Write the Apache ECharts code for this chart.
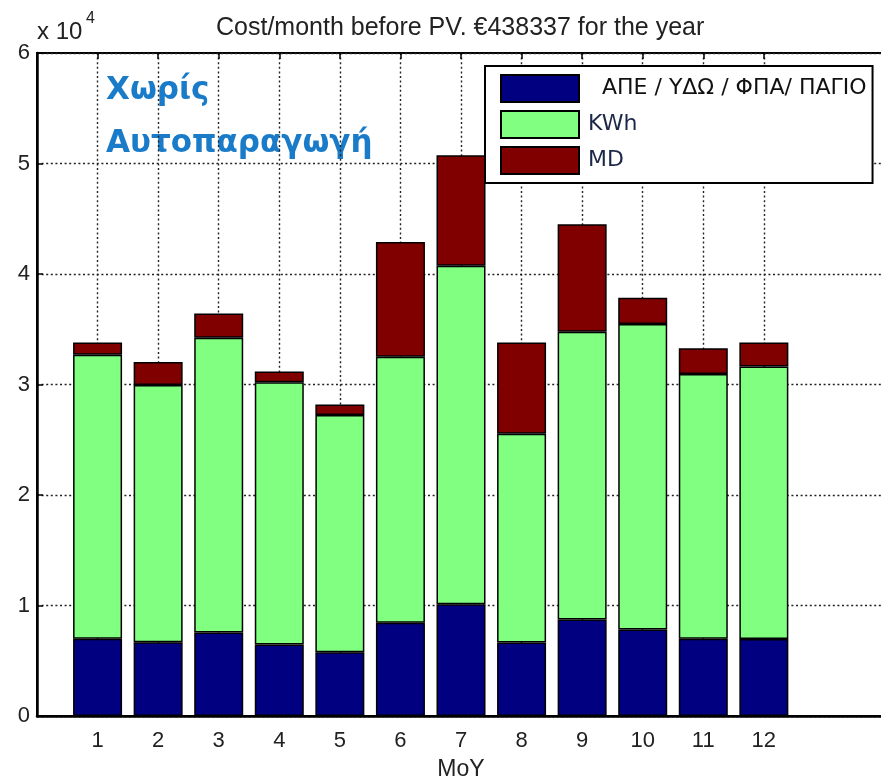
<!DOCTYPE html>
<html>
<head>
<meta charset="utf-8">
<script src="https://cdn.jsdelivr.net/npm/echarts@6/dist/echarts.min.js"></script>
<style>
  html, body { margin: 0; padding: 0; background: #fff; }
  #main { width: 881px; height: 781px; }
</style>
</head>
<body>
<div id="main"></div>
<script>
// months of the year
var months = ['1', '2', '3', '4', '5', '6', '7', '8', '9', '10', '11', '12'];
// ΑΠΕ / ΥΔΩ / ΦΠΑ / ΠΑΓΙΟ (euro)
var fixedCost = [7000, 6680, 7560, 6480, 5780, 8430, 10120, 6660, 8730, 7830, 6980, 6960];
// KWh energy charge (euro)
var kwhCost = [25700, 23280, 26680, 23720, 21470, 24090, 30620, 18880, 26050, 27640, 23980, 24660];
// MD demand charge (euro)
var mdCost = [1090, 2080, 2190, 970, 930, 10380, 10000, 8270, 9730, 2380, 2310, 2190];

var names = ['  ΑΠΕ / ΥΔΩ / ΦΠΑ/ ΠΑΓΙΟ', 'KWh', 'MD'];
var colors = ['#000080', '#80ff80', '#800000'];

// x axis runs 0..14 like the original, bars sit at 1..12
var cats = [''].concat(months, ['', '']);
function pad(arr) { return [null].concat(arr, [null, null]); }
function inner(i) { return i >= 1 && i <= 12; }

var myChart = echarts.init(document.getElementById('main'));

var font = 'Liberation Sans';
var gridLine = { show: true, lineStyle: { color: '#222', width: 1.4, type: [2, 2.6] } };

var series = [fixedCost, kwhCost, mdCost].map(function (d, k) {
  return {
    name: names[k],
    type: 'bar',
    stack: 'cost',
    barWidth: 49,
    data: pad(d),
    itemStyle: { color: colors[k], borderColor: '#000', borderWidth: 1.5 }
  };
});

var option = {
  animation: false,
  title: {
    text: 'Cost/month before PV. €438337 for the year',
    left: 211,
    top: 11,
    textStyle: { fontFamily: font, fontSize: 25, fontWeight: 'normal', color: '#222' }
  },
  legend: {
    orient: 'vertical',
    left: 485,
    top: 66,
    padding: [8, 6, 8, 15],
    itemWidth: 78,
    itemHeight: 27,
    itemGap: 7,
    backgroundColor: '#fff',
    borderColor: '#000',
    borderWidth: 2,
    icon: 'rect',
    itemStyle: { borderWidth: 2 },
    data: [
      { name: names[0], textStyle: { color: '#111' } },
      { name: names[1] },
      { name: names[2] }
    ],
    textStyle: { fontFamily: 'DejaVu Sans', fontSize: 22, lineHeight: 27, color: '#1c2848', padding: [0, 0, 0, 4] }
  },
  grid: {
    left: 37, top: 53, right: -4, bottom: 65,
    outerBoundsMode: 'none',
    show: true, borderColor: '#000', borderWidth: 2
  },
  xAxis: [{
    type: 'category',
    data: cats,
    boundaryGap: false,
    name: 'MoY',
    nameLocation: 'middle',
    nameGap: 42,
    nameTextStyle: { fontFamily: font, fontSize: 23, color: '#222' },
    axisLine: { lineStyle: { color: '#000', width: 2.5 } },
    axisTick: { show: false },
    axisLabel: {
      interval: function (i) { return inner(i); },
      fontFamily: font, fontSize: 22, color: '#222', margin: 14
    },
    splitLine: {
      show: true,
      interval: function (i) { return inner(i); },
      lineStyle: gridLine.lineStyle
    }
  }, {
    type: 'category',
    data: cats,
    boundaryGap: false,
    position: 'top',
    axisLine: { show: false },
    axisTick: { show: true, inside: true, length: 6, interval: function (i) { return inner(i); }, lineStyle: { color: '#000', width: 1.5 } },
    axisLabel: { show: false },
    splitLine: { show: false }
  }],
  yAxis: {
    type: 'value',
    min: 0,
    max: 60000,
    interval: 10000,
    axisLine: { show: true, lineStyle: { color: '#000', width: 2.5 } },
    axisTick: { show: true, inside: true, length: 6, lineStyle: { color: '#000', width: 1.5 } },
    axisLabel: {
      formatter: function (v) { return v / 10000; },
      fontFamily: font, fontSize: 22, color: '#222', margin: 7
    },
    splitLine: gridLine
  },
  graphic: [
    { type: 'text', left: 37, top: 20, style: { text: 'x 10', font: '24px "Liberation Sans"', fill: '#222' } },
    { type: 'text', left: 86, top: 11, style: { text: '4', font: '16px "Liberation Sans"', fill: '#222' } },
    { type: 'text', left: 106, top: 75, style: { text: 'Χωρίς', font: 'bold 31px "DejaVu Sans"', fill: '#1a7cc8' } },
    { type: 'text', left: 106, top: 128, style: { text: 'Αυτοπαραγωγή', font: 'bold 31px "DejaVu Sans"', fill: '#1a7cc8' } }
  ],
  series: series
};

myChart.setOption(option);
</script>
</body>
</html>
